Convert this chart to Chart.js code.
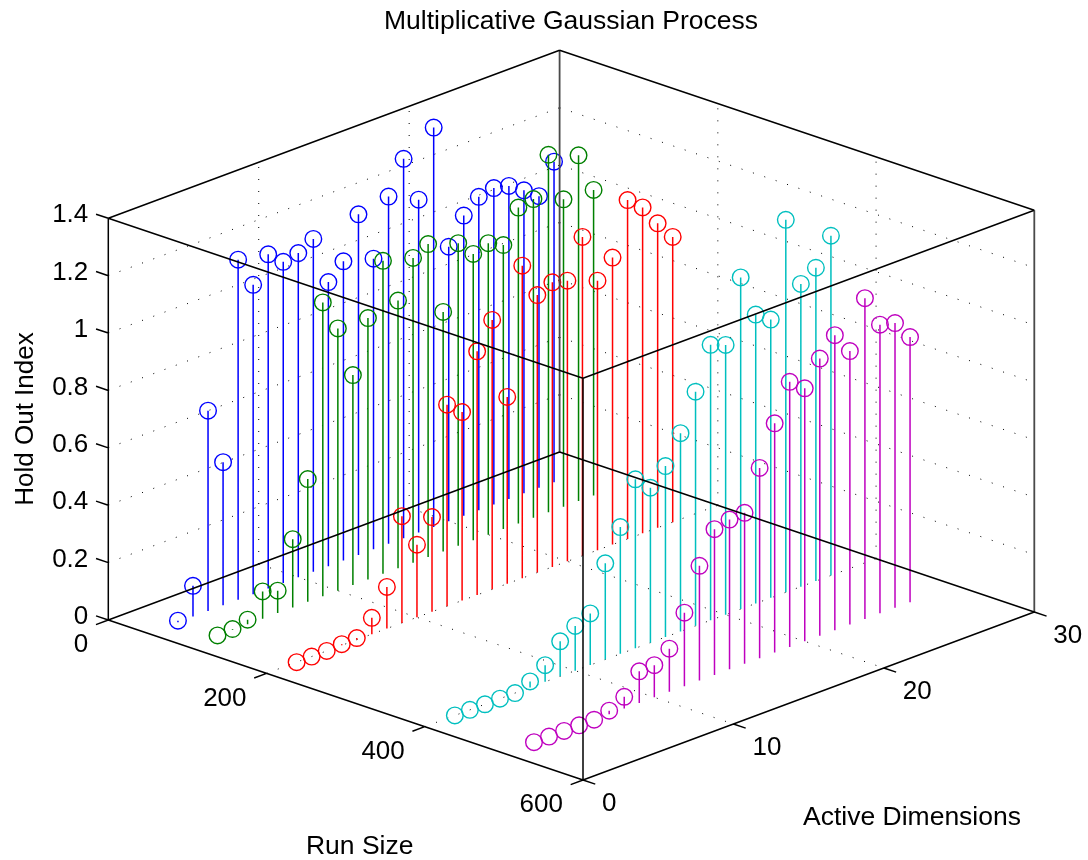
<!DOCTYPE html>
<html>
<head>
<meta charset="utf-8">
<title>Multiplicative Gaussian Process</title>
<script src="https://cdn.jsdelivr.net/npm/chart.js@4"></script>
<style>
html, body { margin: 0; padding: 0; background: #fff; }
canvas { display: block; }
</style>
</head>
<body>
<canvas id="graph" width="1088" height="860"></canvas>
<script>
// values
var activeDims = [2, 3, 4, 5, 6, 7, 8, 9, 10, 11, 12, 13, 14, 15, 16, 17, 18, 19, 20, 21, 22, 23, 24, 25, 26, 27];
var runSizes = [50, 100, 200, 400, 500];
var holdOut50 = [0.005, 0.107, 0.698, 0.499, 1.185, 1.078, 1.165, 1.119, 1.130, 1.160, 0.990, 1.043, 1.187, 1.013, 1.210, 1.322, 1.160, 1.392, 0.957, 1.046, 1.092, 1.103, 1.091, 1.056, 1.016, 1.117];
var holdOut100 = [0, 0.003, 0.016, 0.095, 0.078, 0.238, 0.428, 1.024, 0.914, 0.732, 0.911, 1.091, 0.933, 1.062, 1.091, 0.835, 1.055, 0.998, 1.016, 0.990, 1.101, 1.111, 1.246, 1.071, 1.205, 1.065];
var holdOut200 = [0, 0, 0, 0.004, 0.006, 0.057, 0.145, 0.372, 0.253, 0.330, 0.702, 0.657, 0.849, 0.939, 0.651, 1.089, 0.967, 0.992, 0.978, 1.111, 0.939, 1.000, 1.181, 1.136, 1.061, 0.994];
var holdOut400 = [0, 0, 0, 0, 0, 0.021, 0.058, 0.122, 0.156, 0.180, 0.335, 0.442, 0.589, 0.540, 0.596, 0.691, 0.816, 0.960, 0.940, 1.156, 1.007, 0.970, 1.298, 1.055, 1.092, 1.184];
var holdOut500 = [0, 0, 0, 0, 0, 0.012, 0.041, 0.110, 0.112, 0.150, 0.256, 0.400, 0.508, 0.522, 0.526, 0.663, 0.799, 0.924, 0.882, 0.966, 1.028, 0.953, 1.118, 1.006, 0.992, 0.924];
var holdOutSeries = [holdOut50, holdOut100, holdOut200, holdOut400, holdOut500];
var seriesColors = ["#0000ff", "#008000", "#ff0000", "#00bfbf", "#bf00bf"];

var runTicks = [0, 200, 400, 600];
var dimTicks = [0, 10, 20, 30];
var indexTicks = [0, 0.2, 0.4, 0.6, 0.8, 1, 1.2, 1.4];

var runMax = 600, dimMax = 30, indexMax = 1.4;

// the 3d box seen from the matlab view: data coordinates to page coordinates
function project(run, dim, index) {
    return {
        x: 108.3 + 474.7 * run / runMax + 451.3 * dim / dimMax,
        y: 620 + 160 * run / runMax - 168 * dim / dimMax - 401.7 * index / indexMax
    };
}

// list of segments, with a hole between them
function segments(list) {
    var out = [];
    list.forEach(function(s) {
        out.push(project(s[0], s[1], s[2]));
        out.push(project(s[3], s[4], s[5]));
        out.push({x: null, y: null});
    });
    return out;
}

function lineSet(list, color, width, order, dash) {
    return {
        data: segments(list),
        showLine: true,
        spanGaps: false,
        borderColor: color,
        borderWidth: width,
        borderDash: dash || [],
        pointRadius: 0,
        order: order
    };
}

var gridLines = [];
runTicks.slice(1, 3).forEach(function(r) {
    gridLines.push([r, 0, 0, r, dimMax, 0]);
    gridLines.push([r, dimMax, 0, r, dimMax, indexMax]);
});
dimTicks.slice(1, 3).forEach(function(d) {
    gridLines.push([0, d, 0, runMax, d, 0]);
    gridLines.push([0, d, 0, 0, d, indexMax]);
});
indexTicks.slice(1, 7).forEach(function(z) {
    gridLines.push([0, 0, z, 0, dimMax, z]);
    gridLines.push([0, dimMax, z, runMax, dimMax, z]);
});

var boxLines = [
    [0, 0, indexMax, runMax, 0, indexMax], [runMax, 0, indexMax, runMax, dimMax, indexMax],
    [runMax, dimMax, indexMax, 0, dimMax, indexMax], [0, dimMax, indexMax, 0, 0, indexMax],
    [0, 0, 0, runMax, 0, 0], [runMax, 0, 0, runMax, dimMax, 0],
    [runMax, dimMax, 0, 0, dimMax, 0], [0, dimMax, 0, 0, 0, 0],
    [0, 0, 0, 0, 0, indexMax], [runMax, 0, 0, runMax, 0, indexMax]
];
var backEdges = [
    [0, dimMax, 0, 0, dimMax, indexMax], [runMax, dimMax, 0, runMax, dimMax, indexMax]
];

var tickLen = {run: 15.5, dim: 0.82};
var tickLines = [];
runTicks.forEach(function(r) { tickLines.push([r, 0, 0, r, -tickLen.dim, 0]); });
dimTicks.forEach(function(d) { tickLines.push([runMax, d, 0, runMax + tickLen.run, d, 0]); });
indexTicks.forEach(function(z) { tickLines.push([0, 0, z, -tickLen.run, 0, z]); });

var datasets = [];
datasets.push(lineSet(boxLines.concat(tickLines), "#000000", 1.5, 1));
datasets.push(lineSet(backEdges, "#4a4a4a", 1.8, 2));
runSizes.forEach(function(run, s) {
    var color = seriesColors[s];
    var stems = [], marks = [];
    activeDims.forEach(function(dim, i) {
        var z = holdOutSeries[s][i];
        stems.push([run, dim, 0, run, dim, z]);
        marks.push(project(run, dim, z));
    });
    datasets.push(lineSet(stems, color, 1.5, 30 - s * 5));
    datasets.push({
        data: marks,
        showLine: false,
        pointStyle: "circle",
        pointRadius: 8.3,
        pointBorderWidth: 1.4,
        pointBorderColor: color,
        pointBackgroundColor: "transparent",
        order: 29 - s * 5
    });
});
datasets.push(lineSet(gridLines, "#000000", 1, 50, [1, 11]));

function drawText(ctx, text, x, y, align, rotate) {
    ctx.save();
    ctx.translate(x, y);
    if (rotate) ctx.rotate(-Math.PI / 2);
    ctx.textAlign = align;
    ctx.textBaseline = "middle";
    ctx.fillText(text, 0, 0);
    ctx.restore();
}

var labelsPlugin = {
    id: "labels3d",
    afterDraw: function(chart) {
        var ctx = chart.ctx;
        ctx.save();
        ctx.fillStyle = "#000";
        ctx.font = "26px 'Liberation Sans'";
        indexTicks.forEach(function(z) {
            var p = project(0, 0, z);
            drawText(ctx, String(z), p.x - 20, p.y - 3, "right");
        });
        runTicks.forEach(function(r) {
            var p = project(r, 0, 0);
            drawText(ctx, String(r), p.x - 20, p.y + 25, "right");
        });
        dimTicks.forEach(function(d) {
            var p = project(runMax, d, 0);
            drawText(ctx, String(d), p.x + 19, p.y + 24, "left");
        });
        drawText(ctx, "Hold Out Index", 25.5, 419, "center", true);
        ctx.font = "26.5px 'Liberation Sans'";
        drawText(ctx, "Multiplicative Gaussian Process", 571, 21.5, "center");
        drawText(ctx, "Run Size", 359.7, 846.5, "center");
        drawText(ctx, "Active Dimensions", 912, 817.5, "center");
        ctx.restore();
    }
};

new Chart(document.getElementById("graph").getContext("2d"), {
    type: "scatter",
    data: {datasets: datasets},
    options: {
        responsive: false,
        animation: false,
        layout: {padding: 0, autoPadding: false},
        plugins: {legend: {display: false}, tooltip: {enabled: false}},
        scales: {
            x: {type: "linear", min: 0, max: 1088, display: false},
            y: {type: "linear", min: 0, max: 860, reverse: true, display: false}
        }
    },
    plugins: [labelsPlugin]
});
</script>
</body>
</html>
